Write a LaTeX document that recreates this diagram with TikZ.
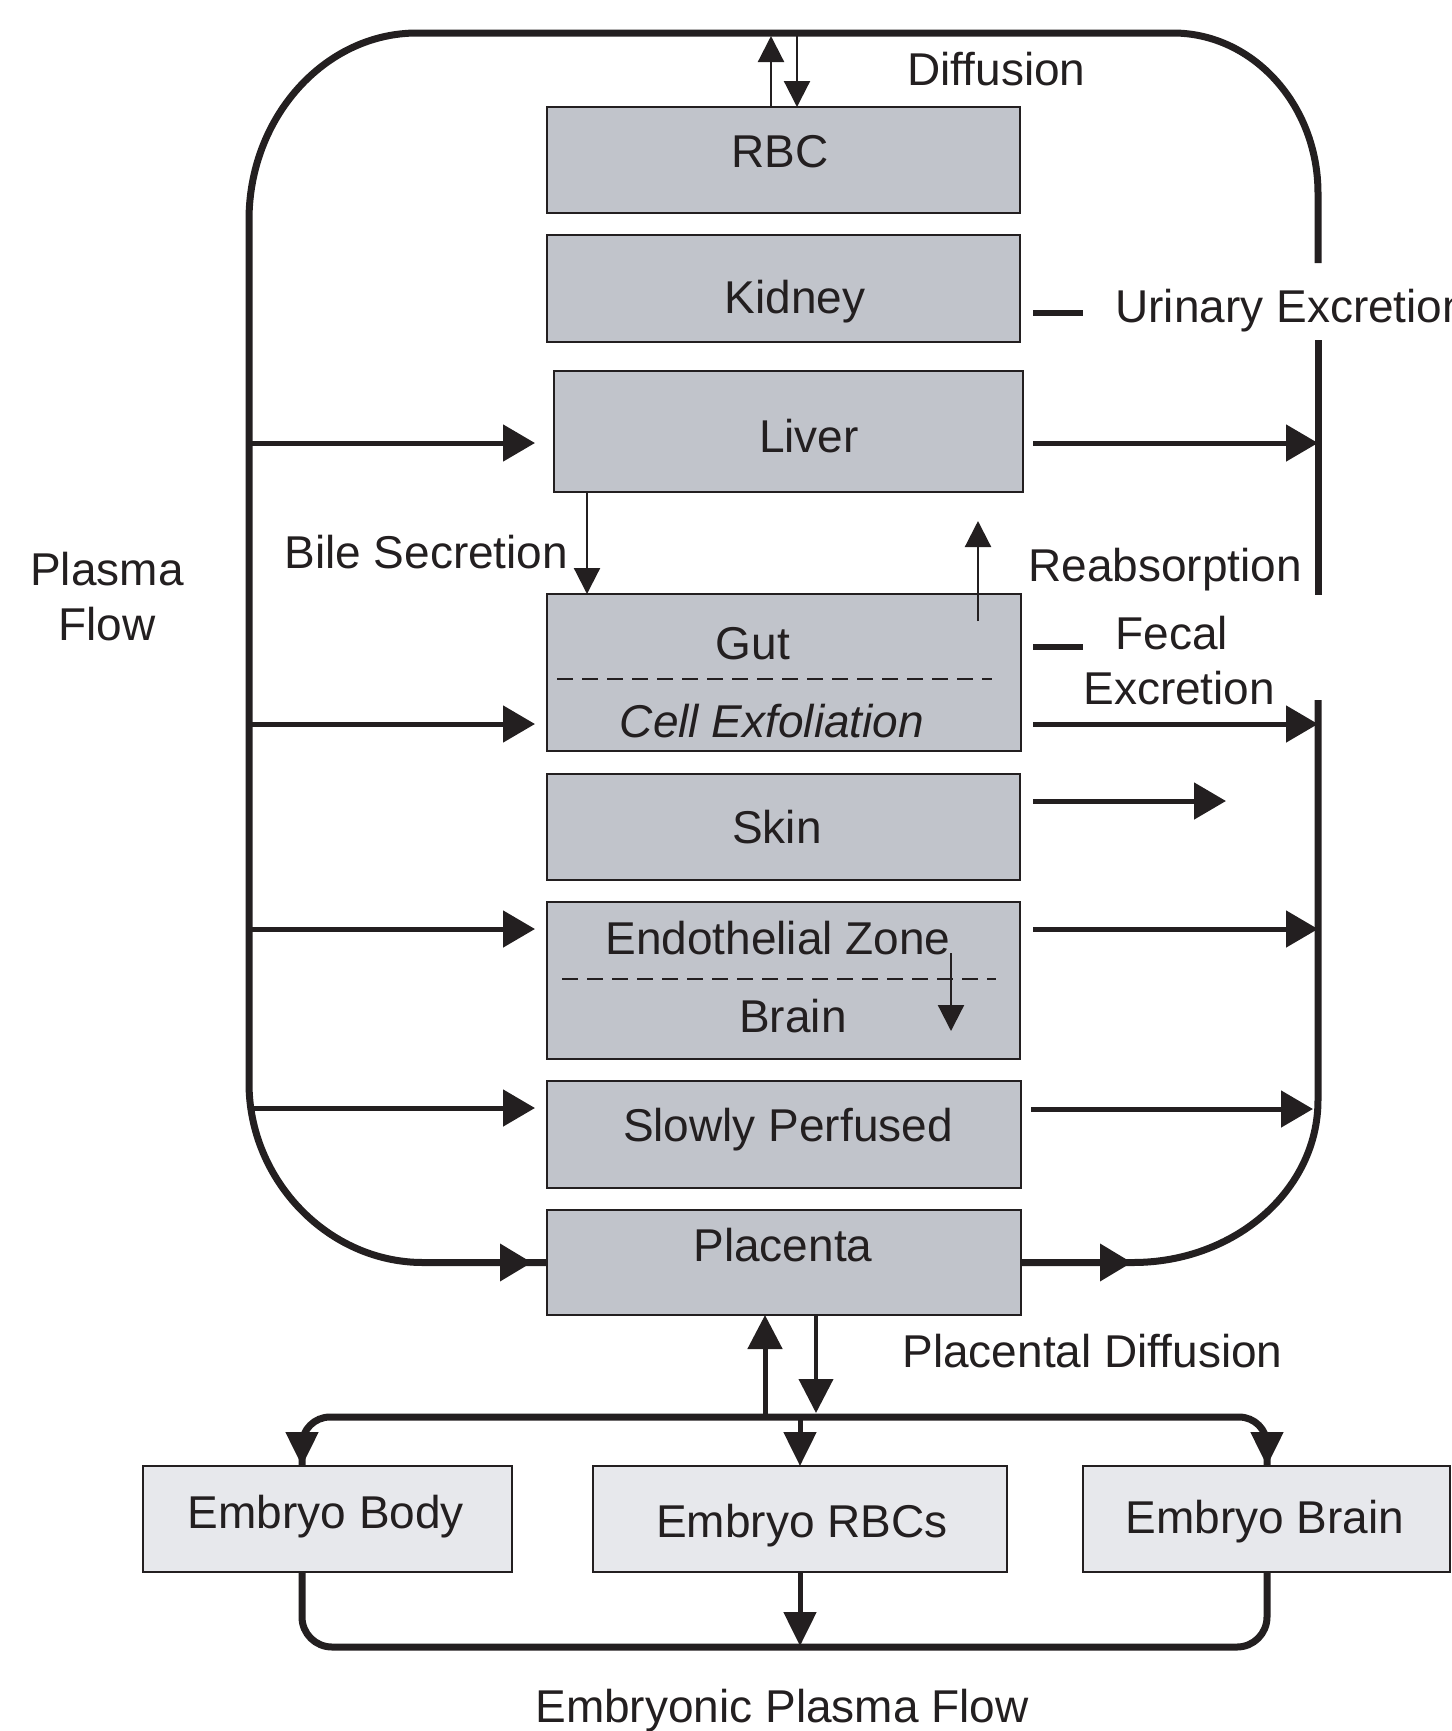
\documentclass[tikz,border=0pt]{standalone}
\usepackage{fontspec}
\setmainfont{Liberation Sans}
\usetikzlibrary{arrows.meta,calc}
\definecolor{ink}{HTML}{231F20}
\definecolor{organ}{HTML}{C1C4CB}
\definecolor{embryo}{HTML}{E7E8EC}
\newcommand\orgbox[6]{\node[#6, minimum width={(#4-#2)*0.5pt}, minimum height={(#5-#3)*0.5pt}] (#1) at ({(#2+#4)/2},{(#3+#5)/2}) {};}
\begin{document}
\begin{tikzpicture}[x=0.5pt,y=-0.5pt,
  organbox/.style={draw=ink, line width=1.2pt, fill=organ, inner sep=0pt, outer sep=0pt},
  embbox/.style={draw=ink, line width=1.2pt, fill=embryo, inner sep=0pt, outer sep=0pt},
  lbl/.style={text=ink, font=\fontsize{23pt}{27pt}\selectfont, inner sep=0pt, anchor=base},
  lblw/.style={lbl, anchor=base west},
  loopline/.style={draw=ink, line width=3.5pt},
  flow/.style={draw=ink, line width=2.5pt, -{Triangle[length=16pt,width=18pt]}},
  loophead/.style={draw=ink, line width=3.5pt, -{Triangle[length=16pt,width=18pt]}},
  thinarr/.style={draw=ink, line width=1.1pt, -{Triangle[length=13pt,width=13pt]}},
  plarr/.style={draw=ink, line width=2.5pt, -{Triangle[length=17pt,width=17pt]}},
  embarr/.style={draw=ink, line width=2.5pt, -{Triangle[length=17pt,width=16pt]}},
  sepline/.style={draw=ink, line width=1pt, dash pattern=on 8pt off 4.5pt},
  excmark/.style={draw=ink, line width=2.6pt}
]
\useasboundingbox (0,0) rectangle (1452,1731);

% organ boxes
\orgbox{rbc}{547}{107}{1020}{213}{organbox}
\orgbox{kidney}{547}{235}{1020}{342}{organbox}
\orgbox{liver}{554}{371}{1023}{492}{organbox}
\orgbox{gut}{547}{594}{1021}{751}{organbox}
\orgbox{skin}{547}{774}{1020}{880}{organbox}
\orgbox{endo}{547}{902}{1020}{1059}{organbox}
\orgbox{slow}{547}{1081}{1021}{1188}{organbox}
\orgbox{placenta}{547}{1210}{1021}{1315}{organbox}
% embryo boxes
\orgbox{ebody}{143}{1466}{512}{1572}{embbox}
\orgbox{erbc}{593}{1466}{1007}{1572}{embbox}
\orgbox{ebrain}{1083}{1466}{1450}{1572}{embbox}

% box labels
\node[lbl] (tRBC) at (780,167) {RBC};
\node[lbl] (tKid) at (795,313) {Kidney};
\node[lbl] (tLiv) at (809,452) {Liver};
\node[lbl] (tGut) at (753,659) {Gut};
\node[lbl, font=\fontsize{23pt}{27pt}\selectfont\itshape] (tCell) at (772,737) {Cell Exfoliation};
\node[lbl] (tSkin) at (777,843) {Skin};
\node[lbl] (tEndo) at (778,954) {Endothelial Zone};
\node[lbl] (tBrain) at (793,1032) {Brain};
\node[lbl] (tSlow) at (788,1141) {Slowly Perfused};
\node[lbl] (tPla) at (783,1261) {Placenta};
\node[lbl] (tEBody) at (326,1528) {Embryo Body};
\node[lbl] (tERBC) at (802,1537) {Embryo RBCs};
\node[lbl] (tEBrain) at (1265,1533) {Embryo Brain};

% dashed separators
\draw[sepline] ($(gut.west)+(10,6.5)$) -- ($(gut.east)+(-29,6.5)$);
\draw[sepline] ($(endo.west)+(15,-1.5)$) -- ($(endo.east)+(-24,-1.5)$);

% side labels
\node[lblw] (tDiff) at (907,85) {Diffusion};
\node[lblw] (tUri) at (1115,322) {Urinary Excretion};
\node[lblw] (tBile) at (284,568) {Bile Secretion};
\node[lblw] (tReab) at (1028,581) {Reabsorption};
\node[lblw] (tFec) at (1115,649) {Fecal};
\node[lblw] (tExc) at (1083,704) {Excretion};
\node[lblw] (tPlD) at (902,1367) {Placental Diffusion};
\node[lblw] (tEPF) at (535,1722) {Embryonic Plasma Flow};
\node[lbl] (tPl1) at (107,585) {Plasma};
\node[lbl] (tPl2) at (107,640) {Flow};

% outer plasma loop
\draw[loopline] (placenta.west) -- (423,1262.5)
  .. controls (328,1262.5) and (249,1180) .. (249,1083)
  -- (249,220)
  .. controls (249,117) and (325,33) .. (417,33)
  -- (1173,33)
  .. controls (1253,33) and (1318,105) .. (1318,193)
  -- (1318,263);
\draw[loopline] (1318,340) -- (1318,595);
\draw[loopline] (1318,700) -- (1318,1100)
  .. controls (1318,1190) and (1235,1262.5) .. (1133,1262.5)
  -- (placenta.east);
\draw[loophead] (470,1262.5) -- ($(placenta.west)+(-15,0)$);
\draw[loophead] (placenta.east) -- ($(placenta.east)+(111,0)$);

% coordinates on the loop
\coordinate (Lliv) at (249,443);
\coordinate (Lgut) at (249,724);
\coordinate (Lendo) at (249,929);
\coordinate (Lslow) at (249,1108);
\coordinate (Rliv) at (1318,443);
\coordinate (Rgut) at (1318,724);
\coordinate (Rendo) at (1318,929);
\coordinate (Rslow) at (1313,1109);
\coordinate (skinout) at (1226,801);

% plasma flow arrows
\draw[flow] (Lliv) -- ($(liver.west |- Lliv)+(-19,0)$);
\draw[flow] (Lgut) -- ($(gut.west |- Lgut)+(-12,0)$);
\draw[flow] (Lendo) -- ($(endo.west |- Lendo)+(-12,0)$);
\draw[flow] (Lslow) -- ($(slow.west |- Lslow)+(-12,0)$);
\draw[flow] ($(liver.east |- Rliv)+(10,0)$) -- (Rliv);
\draw[flow] ($(gut.east |- Rgut)+(12,0)$) -- (Rgut);
\draw[flow] ($(endo.east |- Rendo)+(13,0)$) -- (Rendo);
\draw[flow] ($(slow.east |- Rslow)+(10,0)$) -- (Rslow);
\draw[flow] ($(skin.east |- skinout)+(13,0)$) -- (skinout);

% excretion marks
\draw[excmark] (1033,313) -- (1083,313);
\draw[excmark] (1033,647) -- (1083,647);

% diffusion at RBC
\coordinate (dUp) at (771,36);
\coordinate (dDn) at (797,36);
\draw[thinarr] (rbc.north -| dUp) -- (dUp);
\draw[thinarr] (dDn) -- (rbc.north -| dDn);

% bile secretion
\draw[thinarr] ($(liver.south west)+(33,0)$) -- ($(gut.north west)+(40,0)$);
% reabsorption
\draw[thinarr] ($(gut.north east)+(-43,27)$) -- ($(gut.north east)+(-43,-73)$);
% endothelial to brain
\draw[thinarr] ($(endo.north east)+(-69,51)$) -- ($(endo.north east)+(-69,129)$);

% placental diffusion
\coordinate (pUp) at (765,1417);
\coordinate (pDn) at (816,1413);
\draw[plarr] (pUp) -- (placenta.south -| pUp);
\draw[plarr, line width=2pt] (placenta.south -| pDn) -- (pDn);

% embryonic distribution
\coordinate (bodyIn) at ($(ebody.north west)+(159,0)$);
\coordinate (brainIn) at ($(ebrain.north west)+(184,0)$);
\coordinate (distY) at (0,1417);
\draw[loopline, rounded corners=14pt] (bodyIn) -- (bodyIn |- distY) -- (brainIn |- distY) -- (brainIn);
\draw[embarr] ($(bodyIn)+(0,-34)$) -- (bodyIn);
\draw[embarr] ($(brainIn)+(0,-34)$) -- (brainIn);
\draw[embarr] (erbc.north |- distY) -- (erbc.north);

% embryonic plasma collection
\coordinate (bodyOut) at ($(ebody.south west)+(159,0)$);
\coordinate (brainOut) at ($(ebrain.south west)+(184,0)$);
\coordinate (botY) at (0,1647);
\draw[loopline, rounded corners=15pt] (bodyOut) -- (bodyOut |- botY) -- (brainOut |- botY) -- (brainOut);
\draw[embarr] (erbc.south) -- ($(erbc.south |- botY)+(0,-1)$);
\end{tikzpicture}
\end{document}
